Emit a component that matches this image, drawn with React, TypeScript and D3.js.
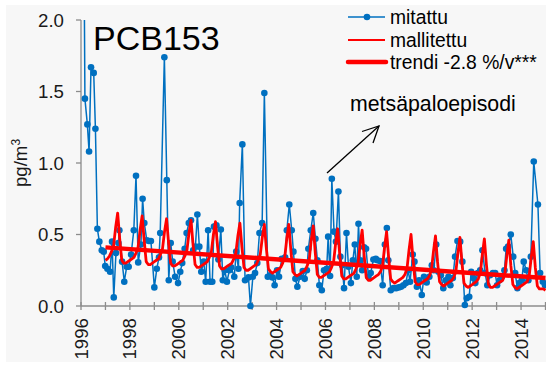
import * as d3 from 'd3';

// mitattu: measured samples (decimal year, pg/m3)
const measuredDates = [1996.12,1996.16,1996.26,1996.33,1996.41,1996.52,1996.59,1996.67,1996.75,1996.85,1996.93,1996.99,1997.08,1997.19,1997.27,1997.34,1997.43,1997.53,1997.57,1997.68,1997.77,1997.87,1997.95,1998.05,1998.16,1998.25,1998.34,1998.45,1998.52,1998.59,1998.69,1998.78,1998.86,1999.00,1999.10,1999.19,1999.24,1999.41,1999.51,1999.59,1999.67,1999.75,1999.85,1999.97,2000.06,2000.14,2000.24,2000.32,2000.41,2000.50,2000.59,2000.68,2000.76,2000.84,2000.92,2001.02,2001.10,2001.20,2001.28,2001.37,2001.44,2001.54,2001.62,2001.72,2001.80,2001.88,2001.97,2002.07,2002.14,2002.27,2002.35,2002.44,2002.49,2002.60,2002.71,2002.85,2002.93,2003.03,2003.12,2003.21,2003.30,2003.41,2003.50,2003.64,2003.73,2003.83,2003.92,2004.02,2004.10,2004.21,2004.35,2004.42,2004.52,2004.62,2004.69,2004.77,2004.85,2004.96,2005.07,2005.15,2005.24,2005.30,2005.40,2005.50,2005.59,2005.67,2005.75,2005.85,2005.94,2006.05,2006.11,2006.19,2006.26,2006.35,2006.43,2006.53,2006.61,2006.68,2006.76,2006.86,2006.94,2007.04,2007.12,2007.20,2007.28,2007.35,2007.42,2007.50,2007.58,2007.66,2007.76,2007.85,2007.96,2008.06,2008.12,2008.23,2008.34,2008.43,2008.51,2008.57,2008.67,2008.78,2008.89,2009.00,2009.09,2009.19,2009.29,2009.38,2009.46,2009.57,2009.64,2009.74,2009.83,2009.94,2010.03,2010.14,2010.25,2010.35,2010.43,2010.53,2010.62,2010.72,2010.82,2010.92,2011.03,2011.11,2011.21,2011.30,2011.40,2011.51,2011.60,2011.70,2011.78,2011.88,2011.96,2012.05,2012.13,2012.23,2012.33,2012.42,2012.53,2012.62,2012.73,2012.85,2012.94,2013.02,2013.12,2013.21,2013.32,2013.39,2013.47,2013.58,2013.68,2013.76,2013.85,2013.93,2014.03,2014.11,2014.21,2014.30,2014.40,2014.52,2014.69,2014.78,2014.89,2014.98];
const measuredValues = [2.6,1.45,1.27,1.08,1.67,1.63,1.24,0.54,0.45,0.39,0.38,0.28,0.26,0.24,0.45,0.06,0.37,0.44,0.53,0.31,0.17,0.275,0.275,0.36,0.53,0.91,0.305,0.43,0.75,0.58,0.46,0.455,0.455,0.13,0.26,0.34,0.51,1.74,0.88,0.18,0.44,0.31,0.205,0.16,0.24,0.30,0.40,0.51,0.58,0.60,0.39,0.415,0.64,0.415,0.24,0.31,0.17,0.53,0.17,0.17,0.555,0.565,0.325,0.535,0.18,0.25,0.17,0.25,0.27,0.205,0.38,0.26,0.72,1.13,0.18,0.20,0.0,0.205,0.23,0.30,0.51,0.58,1.49,0.205,0.215,0.20,0.145,0.25,0.205,0.33,0.34,0.53,0.71,0.53,0.38,0.19,0.135,0.205,0.245,0.19,0.25,0.40,0.53,0.65,0.47,0.32,0.145,0.11,0.25,0.26,0.485,0.21,0.89,0.52,0.45,0.80,0.345,0.285,0.125,0.51,0.275,0.16,0.32,0.43,0.205,0.575,0.32,0.25,0.41,0.40,0.205,0.23,0.325,0.33,0.32,0.315,0.145,0.43,0.545,0.32,0.11,0.125,0.125,0.13,0.135,0.145,0.16,0.25,0.17,0.36,0.31,0.135,0.18,0.077,0.205,0.165,0.205,0.285,0.25,0.43,0.24,0.215,0.125,0.18,0.205,0.145,0.195,0.345,0.455,0.45,0.31,0.007,0.054,0.065,0.24,0.195,0.16,0.23,0.25,0.39,0.23,0.145,0.215,0.23,0.23,0.145,0.18,0.205,0.25,0.40,0.415,0.50,0.345,0.23,0.125,0.16,0.18,0.31,0.25,0.18,0.345,1.01,0.71,0.23,0.17,0.145];

// mallitettu: monthly modelled values, Jan 1997 .. Jan 2015
const modelledStart = 1997;
const modelledValues = [
  0.32,0.33,0.35,0.38,0.42,0.55,0.65,0.47,0.32,0.30,0.30,0.31,
  0.32,0.33,0.34,0.37,0.41,0.53,0.63,0.46,0.31,0.29,0.29,0.30,
  0.31,0.32,0.33,0.36,0.40,0.52,0.61,0.44,0.30,0.28,0.28,0.29,
  0.30,0.31,0.32,0.35,0.39,0.51,0.60,0.43,0.29,0.27,0.27,0.28,
  0.29,0.30,0.31,0.34,0.38,0.50,0.59,0.42,0.28,0.26,0.26,0.27,
  0.28,0.29,0.30,0.33,0.37,0.49,0.58,0.41,0.27,0.25,0.25,0.26,
  0.27,0.28,0.29,0.32,0.36,0.48,0.57,0.40,0.26,0.24,0.23,0.24,
  0.25,0.26,0.27,0.30,0.34,0.47,0.57,0.39,0.24,0.22,0.21,0.22,
  0.23,0.24,0.25,0.28,0.32,0.46,0.56,0.37,0.22,0.20,0.20,0.21,
  0.22,0.23,0.24,0.27,0.31,0.44,0.54,0.36,0.21,0.19,0.19,0.20,
  0.21,0.22,0.23,0.26,0.30,0.43,0.53,0.35,0.20,0.18,0.18,0.19,
  0.20,0.21,0.22,0.24,0.28,0.41,0.52,0.34,0.19,0.17,0.16,0.17,
  0.18,0.19,0.20,0.22,0.26,0.39,0.50,0.32,0.17,0.15,0.15,0.16,
  0.17,0.18,0.19,0.21,0.25,0.38,0.49,0.31,0.17,0.15,0.14,0.15,
  0.16,0.17,0.18,0.20,0.24,0.37,0.48,0.30,0.16,0.14,0.13,0.14,
  0.15,0.16,0.17,0.19,0.23,0.36,0.47,0.29,0.15,0.13,0.13,0.14,
  0.15,0.16,0.17,0.18,0.22,0.35,0.46,0.28,0.15,0.13,0.12,0.13,
  0.14,0.15,0.16,0.17,0.21,0.34,0.45,0.27,0.14,0.12,0.12,0.12,
  0.11,
];

// trendi
const trendDates = [1997, 2015];
const trendValues = [0.41, 0.195];

const yTicks = [0, 0.5, 1.0, 1.5, 2.0];
const yearTicks = d3.range(1996, 2016);
const yearLabels = [1996, 1998, 2000, 2002, 2004, 2006, 2008, 2010, 2012, 2014];

const legendLabels = ['mitattu', 'mallitettu', 'trendi -2.8 %/v***'];

const BLUE = '#0070C0';
const RED = '#FF0000';
const AXIS = '#8c8c8c';
const FONT = '"Liberation Sans", Arial, sans-serif';

export default function App() {
  const width = 546;
  const height = 365;

  const x = d3.scaleLinear().domain([1996, 2015]).range([81, 545.5]);
  const y = d3.scaleLinear().domain([0, 2]).range([306, 20]);

  const n = Math.min(measuredDates.length, measuredValues.length);
  const measured: [number, number][] = d3.range(n).map(i => [measuredDates[i], measuredValues[i]]);
  const modelled: [number, number][] = modelledValues.map((v, i) => [modelledStart + i / 12, v]);
  const trend: [number, number][] = trendDates.map((d, i) => [d, trendValues[i]]);

  const line = d3.line<[number, number]>().x(d => x(d[0])).y(d => y(d[1]));

  const [x0, x1] = x.range();
  const [yBottom, yTop] = y.range();

  const legendX = 348;
  const legendY = [17, 40, 62];

  return (
    <svg width={width} height={height} style={{ position: 'absolute', left: 0, top: 0 }} fontFamily={FONT}>
      <defs>
        <clipPath id="plot-clip">
          <rect x={0} y={yTop} width={width} height={height - yTop} />
        </clipPath>
      </defs>
      <rect x={0} y={0} width={width} height={height} fill="#ffffff" />
      <rect x={6} y={5} width={540} height={357} fill="#f7f7f7" />

      {/* axes */}
      <line x1={x0} x2={x0} y1={yTop} y2={yBottom} stroke={AXIS} strokeWidth={1.3} />
      <line x1={x0} x2={x1} y1={yBottom} y2={yBottom} stroke={AXIS} strokeWidth={1.3} />
      {yTicks.map(t => (
        <g key={'y' + t}>
          <line x1={x0 - 5} x2={x0} y1={y(t)} y2={y(t)} stroke={AXIS} strokeWidth={1.3} />
          <text x={64} y={y(t)} dy="0.35em" textAnchor="end" fontSize={18.67} fill="#1a1a1a">
            {t.toFixed(1)}
          </text>
        </g>
      ))}
      {yearTicks.map(t => (
        <line key={'x' + t} x1={x(t)} x2={x(t)} y1={yBottom - 4} y2={yBottom + 4} stroke={AXIS} strokeWidth={1.3} />
      ))}
      {yearLabels.map(t => (
        <text
          key={'xl' + t}
          transform={`translate(${x(t)},${yBottom + 12}) rotate(-90)`}
          dy="0.35em"
          textAnchor="end"
          fontSize={18.67}
          fill="#1a1a1a"
        >
          {t}
        </text>
      ))}
      <text transform={`translate(27,163) rotate(-90)`} textAnchor="middle" fontSize={18.67} fill="#1a1a1a">
        pg/m<tspan dy={-7} fontSize={12}>3</tspan>
      </text>

      {/* series */}
      <g clipPath="url(#plot-clip)">
        <path d={line(measured) ?? ''} fill="none" stroke={BLUE} strokeWidth={1.5} strokeLinejoin="round" />
        {measured.map((d, i) => (
          <circle key={i} cx={x(d[0])} cy={y(d[1])} r={3.3} fill={BLUE} />
        ))}
        <path d={line(modelled) ?? ''} fill="none" stroke={RED} strokeWidth={2.8} strokeLinejoin="round" />
        <path d={line(trend) ?? ''} fill="none" stroke={RED} strokeWidth={4.5} />
      </g>

      <text x={93} y={50} fontSize={34} fill="#000">PCB153</text>

      {/* legend */}
      <line x1={legendX} x2={legendX + 37} y1={legendY[0]} y2={legendY[0]} stroke={BLUE} strokeWidth={1.5} />
      <circle cx={legendX + 19} cy={legendY[0]} r={3.3} fill={BLUE} />
      <line x1={legendX} x2={legendX + 37} y1={legendY[1]} y2={legendY[1]} stroke={RED} strokeWidth={2.2} />
      <line x1={legendX} x2={legendX + 38} y1={legendY[2]} y2={legendY[2]} stroke={RED} strokeWidth={4.5} strokeLinecap="round" />
      {legendLabels.map((l, i) => (
        <text key={l} x={legendX + 42} y={legendY[i]} dy="0.35em" fontSize={19.3} fill="#000">
          {l}
        </text>
      ))}

      {/* annotation */}
      <text x={350} y={111} fontSize={21.3} fill="#000">metsäpaloepisodi</text>
      <line x1={327} y1={173} x2={379} y2={126} stroke="#000" strokeWidth={1.3} />
      <polyline points="362,131.5 379,126 373,143" fill="none" stroke="#000" strokeWidth={1.3} />
    </svg>
  );
}
